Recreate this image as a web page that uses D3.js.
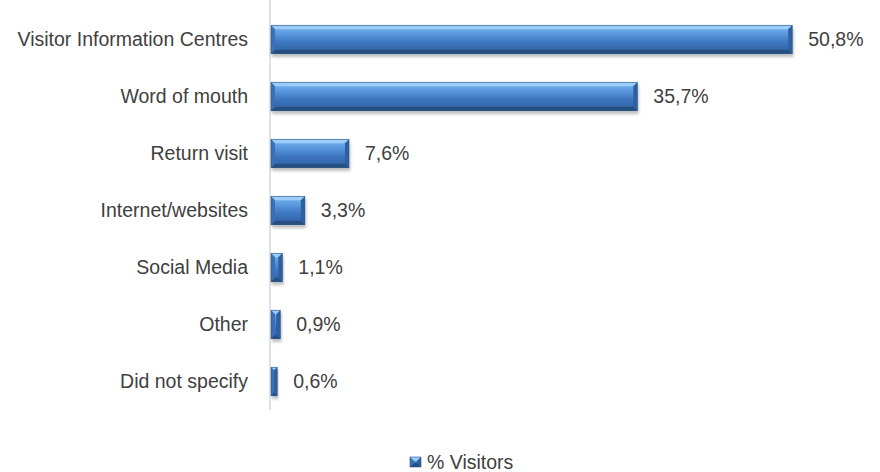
<!DOCTYPE html>
<html>
<head>
<meta charset="utf-8" />
<script src="https://d3js.org/d3.v7.min.js"></script>
<style>
  body { margin: 0; background: #fff; }
  text { font-family: "Liberation Sans", Arial, sans-serif; fill: #404040; }
</style>
</head>
<body>
<div id="my_dataviz"></div>
<script>
// data
var categories = ["Visitor Information Centres", "Word of mouth", "Return visit",
  "Internet/websites", "Social Media", "Other", "Did not specify"];
var visitors = [50.8, 35.7, 7.6, 3.3, 1.1, 0.9, 0.6];
var seriesName = "% Visitors";

var W = 880, H = 472;
var margin = { top: 11, left: 271, bottom: 62 };
var fontSize = "19.5px";

var svg = d3.select("#my_dataviz").append("svg")
  .attr("width", W).attr("height", H);

var defs = svg.append("defs");
var grad = defs.append("linearGradient").attr("id", "barGrad")
  .attr("x1", 0).attr("y1", 0).attr("x2", 0).attr("y2", 1);
grad.append("stop").attr("offset", "0%").attr("stop-color", "#7ab8f4");
grad.append("stop").attr("offset", "30%").attr("stop-color", "#5a98de");
grad.append("stop").attr("offset", "60%").attr("stop-color", "#3d76c0");
grad.append("stop").attr("offset", "100%").attr("stop-color", "#30609f");

var shadow = defs.append("filter").attr("id", "shadow")
  .attr("x", "-10%").attr("y", "-20%").attr("width", "130%").attr("height", "160%");
shadow.append("feGaussianBlur").attr("in", "SourceAlpha").attr("stdDeviation", 1.5);
shadow.append("feOffset").attr("dx", 1).attr("dy", 3).attr("result", "ob");
shadow.append("feComponentTransfer").append("feFuncA").attr("type", "linear").attr("slope", 0.25);
var merge = shadow.append("feMerge");
merge.append("feMergeNode");
merge.append("feMergeNode").attr("in", "SourceGraphic");

var x = d3.scaleLinear().domain([0, 10]).range([margin.left, margin.left + 102.6]);
var y = d3.scaleBand().domain(categories)
  .range([margin.top, H - margin.bottom]).paddingInner(0.5).paddingOuter(0.25);

// category axis
var yAxis = svg.append("g")
  .attr("transform", "translate(" + (margin.left - 1) + ",0)")
  .call(d3.axisLeft(y).tickSize(0).tickPadding(22).tickSizeOuter(0));
yAxis.select(".domain").attr("stroke", "#d9d9d9").attr("stroke-width", 1.5)
  .attr("d", "M0,0V410");
yAxis.selectAll("text").style("font-size", fontSize)
  .style("font-family", "'Liberation Sans', Arial, sans-serif").attr("fill", "#404040");

// bevelled bars
function bevelBar(g, x0, y0, w, h) {
  var b = Math.min(4, w / 2);
  g.attr("filter", "url(#shadow)");
  g.append("rect").attr("x", x0).attr("y", y0).attr("width", w).attr("height", h)
    .attr("fill", "url(#barGrad)");
  // top face
  g.append("polygon").attr("points", [[x0, y0], [x0 + w, y0], [x0 + w - b, y0 + b], [x0 + b, y0 + b]].join(" "))
    .attr("fill", "#9ccdf8");
  // bottom face
  g.append("polygon").attr("points", [[x0, y0 + h], [x0 + w, y0 + h], [x0 + w - b, y0 + h - b], [x0 + b, y0 + h - b]].join(" "))
    .attr("fill", "#25507f");
  // left face
  g.append("polygon").attr("points", [[x0, y0], [x0 + b, y0 + b], [x0 + b, y0 + h - b], [x0, y0 + h]].join(" "))
    .attr("fill", "#3a70b6");
  // right face
  g.append("polygon").attr("points", [[x0 + w, y0], [x0 + w - b, y0 + b], [x0 + w - b, y0 + h - b], [x0 + w, y0 + h]].join(" "))
    .attr("fill", "#2f609f");
  g.append("rect").attr("x", x0).attr("y", y0).attr("width", w).attr("height", h)
    .attr("fill", "none").attr("stroke", "#2a5486").attr("stroke-width", 0.6);
}

var bars = svg.selectAll(".bar").data(categories).enter().append("g").attr("class", "bar");
bars.each(function (d, i) {
  bevelBar(d3.select(this), x(0), y(d), x(visitors[i]) - x(0), y.bandwidth());
});

svg.selectAll(".lbl").data(categories).enter().append("text")
  .attr("class", "lbl")
  .attr("x", function (d, i) { return x(visitors[i]) + 16; })
  .attr("y", function (d) { return y(d) + y.bandwidth() / 2; })
  .attr("dy", "0.35em")
  .style("font-size", fontSize)
  .text(function (d, i) { return visitors[i].toFixed(1).replace(".", ",") + "%"; });

// legend
var lg = svg.append("g").attr("transform", "translate(410,457)");
bevelBar(lg.append("g"), 0, 0, 11, 10);
lg.select("g").attr("filter", null);
lg.append("text").attr("x", 17).attr("y", 5).attr("dy", "0.35em")
  .style("font-size", fontSize).text(seriesName);
</script>
</body>
</html>
